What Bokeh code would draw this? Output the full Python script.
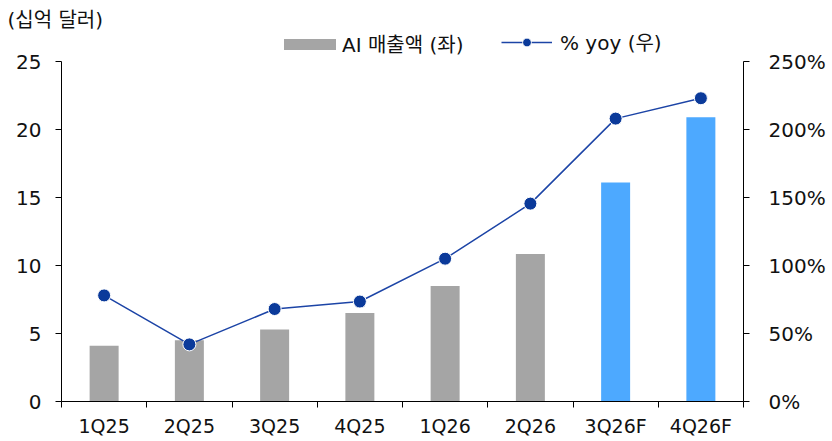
from bokeh.plotting import figure
from bokeh.models import (ColumnDataSource, Range1d, LinearAxis, FixedTicker,
                          PrintfTickFormatter, Legend, LegendItem)
from bokeh.embed import file_html
from bokeh.resources import INLINE

# ---- data ----
quarters = ["1Q25", "2Q25", "3Q25", "4Q25", "1Q26", "2Q26", "3Q26F", "4Q26F"]
ai_revenue = [4.1, 4.5, 5.3, 6.5, 8.5, 10.85, 16.1, 20.9]      # 십억 달러 (좌)
yoy_pct = [78, 42, 68, 73.5, 105, 145.5, 208, 223]              # % yoy (우)
is_forecast = [False, False, False, False, False, False, True, True]
left_ticks = [0, 5, 10, 15, 20, 25]
right_ticks = [0, 50, 100, 150, 200, 250]

FONT = "DejaVu Sans, Noto Sans CJK KR"
GRAY = "#A5A5A5"
BLUE = "#4DA9FF"
NAVY = "#0B3A9A"
LINE = "#1C44A6"
TXT = "#111111"

# layout (page pixels)
W, H = 832, 441
TOP, AXIS_TOP, BOTTOM = 31, 61, 401
LEFT, RIGHT = 61, 743
scale_ext = (BOTTOM - TOP) / (BOTTOM - AXIS_TOP)   # frame extends above the axis top

xs = list(range(len(quarters)))
act = ColumnDataSource(dict(
    x=[x for x, f in zip(xs, is_forecast) if not f],
    y=[v for v, f in zip(ai_revenue, is_forecast) if not f]))
fc = ColumnDataSource(dict(
    x=[x for x, f in zip(xs, is_forecast) if f],
    y=[v for v, f in zip(ai_revenue, is_forecast) if f]))
line_src = ColumnDataSource(dict(x=xs, y=yoy_pct))

p = figure(width=W, height=H, output_backend="svg", toolbar_location=None,
           x_range=Range1d(-0.5, len(quarters) - 0.5),
           y_range=Range1d(0, left_ticks[-1] * scale_ext),
           min_border_left=LEFT, min_border_right=W - RIGHT,
           min_border_top=TOP, min_border_bottom=H - BOTTOM,
           title="(십억 달러)")
p.outline_line_color = None
p.grid.visible = False
p.background_fill_color = "white"
p.border_fill_color = "white"
p.extra_y_ranges = {"pct": Range1d(0, right_ticks[-1] * scale_ext)}

p.title.text_font = FONT
p.title.text_font_size = "20px"
p.title.text_font_style = "normal"
p.title.text_color = TXT
p.title.align = "left"
p.title.offset = -(LEFT - 7)
p.title.standoff = 0

r_act = p.vbar(x="x", top="y", width=0.34, source=act, fill_color=GRAY,
               line_color=None)
p.vbar(x="x", top="y", width=0.34, source=fc, fill_color=BLUE, line_color=None)
r_line = p.line(x="x", y="y", source=line_src, y_range_name="pct",
                line_color=LINE, line_width=1.5)
r_pts = p.scatter(x="x", y="y", source=line_src, y_range_name="pct", size=13,
                  fill_color=NAVY, line_color="white", line_width=1)

# x axis
xa = p.xaxis[0]
xa.ticker = FixedTicker(ticks=xs, minor_ticks=[x - 0.5 for x in xs] + [xs[-1] + 0.5])
xa.major_label_overrides = {x: q for x, q in zip(xs, quarters)}
xa.major_tick_line_color = None
xa.minor_tick_line_color = "black"
xa.minor_tick_out = 6
xa.minor_tick_in = 0
xa.axis_line_color = "black"
xa.major_label_standoff = 7
xa.major_label_text_font_size = "19px"

# left axis
ya = p.yaxis[0]
ya.ticker = FixedTicker(ticks=left_ticks)
ya.bounds = (left_ticks[0], left_ticks[-1])
ya.minor_tick_line_color = None
ya.major_tick_out = 6
ya.major_tick_in = 0
ya.axis_line_color = "black"
ya.major_tick_line_color = "black"
ya.major_label_standoff = 14
ya.major_label_text_font_size = "20px"

# right axis
ra = LinearAxis(y_range_name="pct", ticker=FixedTicker(ticks=right_ticks),
                formatter=PrintfTickFormatter(format="%d%%"),
                bounds=(right_ticks[0], right_ticks[-1]))
ra.minor_tick_line_color = None
ra.major_tick_out = 6
ra.major_tick_in = 0
ra.axis_line_color = "black"
ra.major_tick_line_color = "black"
ra.major_label_standoff = 19
ra.major_label_text_font_size = "20px"
p.add_layout(ra, "right")

for ax in (xa, ya, ra):
    ax.major_label_text_font = FONT
    ax.major_label_text_color = TXT

common = dict(orientation="horizontal", padding=0, margin=0,
              border_line_color=None, background_fill_alpha=0,
              label_text_font=FONT, label_text_font_size="20px",
              label_text_color=TXT)
leg_bar = Legend(items=[LegendItem(label="AI 매출액 (좌)", renderers=[r_act])],
                 location=(277 - LEFT, BOTTOM - 58),
                 glyph_width=65, glyph_height=14, label_height=14,
                 label_standoff=0, **common)
leg_line = Legend(items=[LegendItem(label="% yoy (우)", renderers=[r_line, r_pts])],
                  location=(501 - LEFT, BOTTOM - 56),
                  glyph_width=51, glyph_height=22, label_height=22,
                  label_standoff=8, **common)
p.add_layout(leg_bar, "center")
p.add_layout(leg_line, "center")

open("out.html", "w").write(file_html(p, INLINE))
